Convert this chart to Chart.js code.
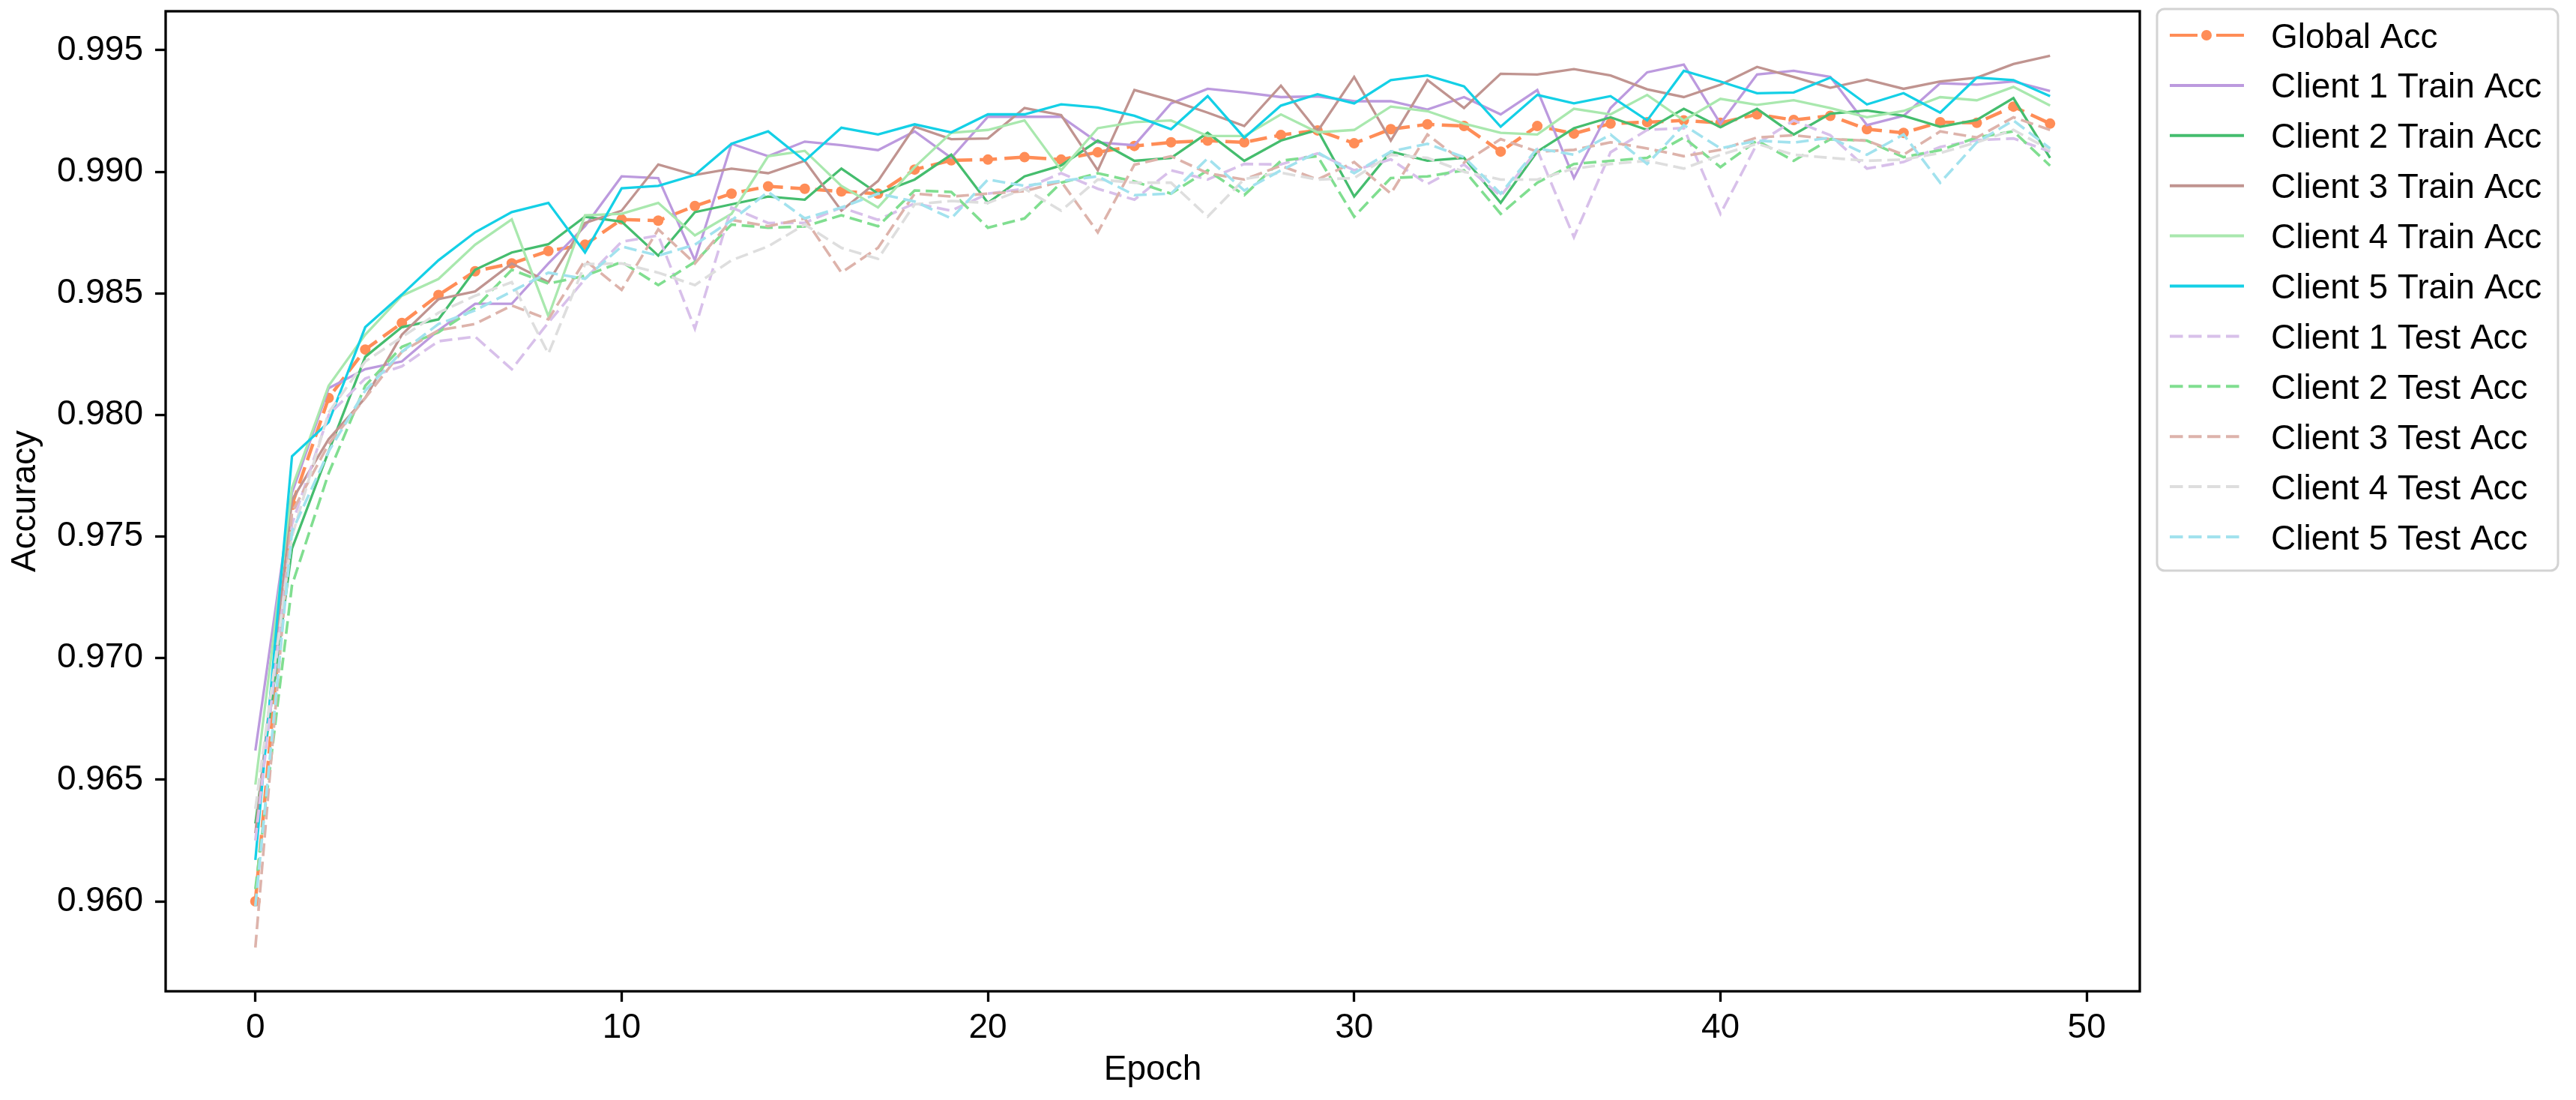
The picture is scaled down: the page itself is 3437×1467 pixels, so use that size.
<!DOCTYPE html>
<html>
<head>
<meta charset="utf-8">
<script src="https://cdn.jsdelivr.net/npm/chart.js@4.4.1/dist/chart.umd.min.js"></script>
<style>
	html, body { margin: 0; padding: 0; background: #ffffff; }
	#wrap { width: 3437px; height: 1467px; position: relative; }
</style>
</head>
<body>
<div id="wrap"><canvas id="mycanvas"></canvas></div>
<script>
// epochs and tick values
var epochs = [];
for (var e = 0; e < 50; e++) epochs.push(e);
var xTicks = [0, 10, 20, 30, 40, 50];
var yTicks = [0.960, 0.965, 0.970, 0.975, 0.980, 0.985, 0.990, 0.995];

var seriesNames = ["Global Acc",
	"Client 1 Train Acc", "Client 2 Train Acc", "Client 3 Train Acc", "Client 4 Train Acc", "Client 5 Train Acc",
	"Client 1 Test Acc", "Client 2 Test Acc", "Client 3 Test Acc", "Client 4 Test Acc", "Client 5 Test Acc"];

var globalAcc = [0.9600, 0.9763, 0.9807, 0.98269, 0.98378, 0.98493, 0.98591, 0.98623, 0.98674, 0.98700,
	0.98804, 0.98799, 0.98859, 0.98910, 0.98940, 0.98930, 0.98919, 0.98910, 0.99009, 0.99047,
	0.99050, 0.99060, 0.99050, 0.99080, 0.99106, 0.99121, 0.99128, 0.99121, 0.99151, 0.99170,
	0.99117, 0.99175, 0.99195, 0.99188, 0.99083, 0.99188, 0.99157, 0.99198, 0.99204, 0.99211,
	0.99201, 0.99236, 0.99213, 0.99230, 0.99175, 0.99160, 0.99204, 0.99201, 0.99268, 0.99198];

var c1Train = [0.9662, 0.9768, 0.9811, 0.98188, 0.98220, 0.98348, 0.98457, 0.98457, 0.98623, 0.98776,
	0.98981, 0.98974, 0.98636, 0.99115, 0.99064, 0.99124, 0.99109, 0.99089, 0.99166, 0.99057,
	0.99226, 0.99226, 0.99226, 0.99121, 0.99109, 0.99281, 0.99341, 0.99326, 0.99307, 0.99310,
	0.99290, 0.99290, 0.99256, 0.99307, 0.99236, 0.99336, 0.98974, 0.99262, 0.99409, 0.99441,
	0.99198, 0.99400, 0.99415, 0.99390, 0.99192, 0.99230, 0.99364, 0.99358, 0.99371, 0.99332];

var c2Train = [0.9632, 0.9745, 0.9785, 0.98239, 0.98361, 0.98393, 0.98597, 0.98668, 0.98702, 0.98815,
	0.98795, 0.98655, 0.98834, 0.98866, 0.98898, 0.98885, 0.99013, 0.98910, 0.98968, 0.99070,
	0.98872, 0.98981, 0.99026, 0.99128, 0.99045, 0.99057, 0.99160, 0.99045, 0.99128, 0.99172,
	0.98898, 0.99083, 0.99045, 0.99057, 0.98872, 0.99083, 0.99179, 0.99224, 0.99172, 0.99259,
	0.99183, 0.99259, 0.99153, 0.99239, 0.99252, 0.99230, 0.99185, 0.99213, 0.99303, 0.99057];

var c3Train = [0.9628, 0.9765, 0.9790, 0.9807, 0.9833, 0.98476, 0.98508, 0.98623, 0.98546, 0.98789,
	0.98840, 0.99030, 0.98987, 0.99013, 0.98994, 0.99045, 0.98840, 0.98962, 0.99185, 0.99134,
	0.99137, 0.99262, 0.99233, 0.99006, 0.99336, 0.99294, 0.99243, 0.99188, 0.99354, 0.99166,
	0.99390, 0.99128, 0.99377, 0.99262, 0.99403, 0.99400, 0.99422, 0.99396, 0.99339, 0.99307,
	0.99358, 0.99431, 0.99390, 0.99345, 0.99379, 0.99341, 0.99371, 0.99387, 0.99443, 0.99477];

var c4Train = [0.9648, 0.9770, 0.9812, 0.9833, 0.9849, 0.98559, 0.98700, 0.98804, 0.98406, 0.98821,
	0.98827, 0.98872, 0.98738, 0.98827, 0.99064, 0.99086, 0.98942, 0.98853, 0.99019, 0.99160,
	0.99172, 0.99211, 0.99006, 0.99179, 0.99204, 0.99211, 0.99147, 0.99147, 0.99236, 0.99162,
	0.99172, 0.99268, 0.99249, 0.99198, 0.99160, 0.99153, 0.99259, 0.99236, 0.99316, 0.99211,
	0.99300, 0.99275, 0.99294, 0.99262, 0.99224, 0.99250, 0.99307, 0.99294, 0.99349, 0.99272];

var c5Train = [0.9617, 0.9783, 0.9797, 0.98361, 0.98495, 0.98636, 0.98751, 0.98834, 0.98872, 0.98668,
	0.98932, 0.98942, 0.98987, 0.99115, 0.99166, 0.99045, 0.99181, 0.99153, 0.99195, 0.99162,
	0.99236, 0.99236, 0.99277, 0.99264, 0.99230, 0.99175, 0.99311, 0.99140, 0.99272, 0.99319,
	0.99281, 0.99377, 0.99396, 0.99351, 0.99185, 0.99316, 0.99281, 0.99311, 0.99211, 0.99415,
	0.99371, 0.99323, 0.99326, 0.99387, 0.99277, 0.99323, 0.99243, 0.99387, 0.99377, 0.99311];

var c1Test = [0.9625, 0.9755, 0.9800, 0.9815, 0.9820, 0.98303, 0.98322, 0.98188, 0.98380, 0.98559,
	0.98712, 0.98738, 0.98355, 0.98853, 0.98789, 0.98790, 0.98853, 0.98802, 0.98870, 0.98840,
	0.98910, 0.98930, 0.98994, 0.98930, 0.98885, 0.99006, 0.98968, 0.99032, 0.99030, 0.99075,
	0.99006, 0.99051, 0.98949, 0.99030, 0.98900, 0.99090, 0.98731, 0.99080, 0.99172, 0.99180,
	0.98827, 0.99115, 0.99211, 0.99150, 0.99013, 0.99040, 0.99102, 0.99130, 0.99137, 0.99083];

var c2Test = [0.9605, 0.9730, 0.9776, 0.9812, 0.9828, 0.98340, 0.98440, 0.98597, 0.98540, 0.98572,
	0.98629, 0.98534, 0.98629, 0.98783, 0.98770, 0.98775, 0.98821, 0.98776, 0.98923, 0.98917,
	0.98770, 0.98808, 0.98955, 0.98994, 0.98960, 0.98910, 0.99006, 0.98904, 0.99045, 0.99064,
	0.98815, 0.98974, 0.98981, 0.99006, 0.98827, 0.98955, 0.99032, 0.99045, 0.99057, 0.99141,
	0.99019, 0.99128, 0.99045, 0.99134, 0.99128, 0.99060, 0.99089, 0.99141, 0.99166, 0.99025];

var c3Test = [0.9581, 0.9760, 0.9788, 0.9807, 0.9826, 0.98348, 0.98374, 0.98450, 0.98393, 0.98636,
	0.98514, 0.98763, 0.98623, 0.98802, 0.98776, 0.98808, 0.98585, 0.98687, 0.98910, 0.98898,
	0.98910, 0.98920, 0.98960, 0.98751, 0.99029, 0.99064, 0.98994, 0.98968, 0.99025, 0.98968,
	0.99040, 0.98910, 0.99153, 0.99038, 0.99134, 0.99083, 0.99090, 0.99121, 0.99096, 0.99064,
	0.99090, 0.99141, 0.99150, 0.99134, 0.99128, 0.99070, 0.99166, 0.99141, 0.99224, 0.99172];

var c4Test = [0.9638, 0.9750, 0.9801, 0.9822, 0.9832, 0.98420, 0.98490, 0.98546, 0.98252, 0.98620,
	0.98623, 0.98585, 0.98534, 0.98636, 0.98693, 0.98783, 0.98687, 0.98642, 0.98866, 0.98880,
	0.98872, 0.98930, 0.98840, 0.98968, 0.98955, 0.98955, 0.98815, 0.98970, 0.98996, 0.98968,
	0.98974, 0.99070, 0.99057, 0.99000, 0.98968, 0.98968, 0.99013, 0.99032, 0.99045, 0.99013,
	0.99070, 0.99115, 0.99070, 0.99057, 0.99045, 0.99050, 0.99077, 0.99121, 0.99172, 0.99090];

var c5Test = [0.9598, 0.9752, 0.9785, 0.9810, 0.9826, 0.98374, 0.98430, 0.98508, 0.98585, 0.98560,
	0.98693, 0.98655, 0.98700, 0.98800, 0.98917, 0.98808, 0.98853, 0.98910, 0.98878, 0.98808,
	0.98968, 0.98942, 0.98962, 0.98981, 0.98904, 0.98910, 0.99055, 0.98923, 0.99006, 0.99080,
	0.98994, 0.99083, 0.99115, 0.99060, 0.98910, 0.99096, 0.99070, 0.99153, 0.99032, 0.99192,
	0.99096, 0.99128, 0.99120, 0.99140, 0.99070, 0.99153, 0.98955, 0.99121, 0.99211, 0.99096];

var allSeries = [globalAcc, c1Train, c2Train, c3Train, c4Train, c5Train, c1Test, c2Test, c3Test, c4Test, c5Test];
var colors = ["#ff8d57",
	"#bc9ade", "#45bd6e", "#c09490", "#a9e8ae", "#14d0e6",
	"#d8c0ea", "#80de90", "#ddb3ab", "#dedede", "#a2e2ee"];

var FONT = "'Liberation Sans', Arial, sans-serif";
var PLOT = { left: 221, top: 15, right: 2855, bottom: 1322 };

function points(arr) {
	var out = [];
	for (var i = 0; i < arr.length; i++) out.push({ x: epochs[i], y: arr[i] });
	return out;
}

var datasets = [];
for (var i = 0; i < allSeries.length; i++) {
	var ds = {
		label: seriesNames[i],
		data: points(allSeries[i]),
		borderColor: colors[i],
		backgroundColor: colors[i],
		fill: false,
		tension: 0,
		pointRadius: 0,
		pointHoverRadius: 0,
		borderWidth: 3.3,
		order: allSeries.length - i
	};
	if (i == 0) {
		ds.borderWidth = 4.5;
		ds.borderDash = [23, 10];
		ds.pointRadius = 7;
		ds.pointBorderWidth = 0;
		ds.pointBackgroundColor = colors[i];
	} else if (i > 5) {
		ds.borderWidth = 3.6;
		ds.borderDash = [17, 7.5];
	}
	datasets.push(ds);
}

// frame around the axes + legend box at the right
var framePlugin = {
	id: "frame",
	afterDatasetsDraw: function(chart) {
		var ctx = chart.ctx, a = chart.chartArea;
		ctx.save();
		ctx.strokeStyle = "#000000";
		ctx.lineWidth = 3.3;
		ctx.strokeRect(a.left, a.top, a.right - a.left, a.bottom - a.top);
		ctx.restore();
	},
	afterDraw: function(chart) {
		var ctx = chart.ctx;
		var bx = 2878, by = 12, bw = 535, bh = 749, r = 10;
		ctx.save();
		ctx.beginPath();
		ctx.moveTo(bx + r, by);
		ctx.arcTo(bx + bw, by, bx + bw, by + bh, r);
		ctx.arcTo(bx + bw, by + bh, bx, by + bh, r);
		ctx.arcTo(bx, by + bh, bx, by, r);
		ctx.arcTo(bx, by, bx + bw, by, r);
		ctx.closePath();
		ctx.fillStyle = "rgba(255,255,255,0.8)";
		ctx.fill();
		ctx.strokeStyle = "#d3d3d3";
		ctx.lineWidth = 3;
		ctx.stroke();

		ctx.font = "46px " + FONT;
		ctx.textBaseline = "alphabetic";
		ctx.textAlign = "left";
		for (var i = 0; i < chart.data.datasets.length; i++) {
			var d = chart.data.datasets[i];
			var y = 47 + i * 66.9;
			ctx.strokeStyle = d.borderColor;
			ctx.lineWidth = 4;
			ctx.lineCap = "butt";
			if (i == 0) ctx.setLineDash([37, 25]);
			else if (d.borderDash) ctx.setLineDash([17.5, 7.5]);
			else ctx.setLineDash([]);
			ctx.beginPath();
			ctx.moveTo(2895, y);
			ctx.lineTo(2994, y);
			ctx.stroke();
			ctx.setLineDash([]);
			if (i == 0) {
				ctx.fillStyle = d.borderColor;
				ctx.beginPath();
				ctx.arc(2944, y, 7, 0, Math.PI * 2);
				ctx.fill();
			}
			ctx.fillStyle = "#000000";
			ctx.fillText(d.label, 3030, y + 16.5);
		}
		ctx.restore();
	}
};

var ctx = document.getElementById("mycanvas");
var chart = new Chart(ctx, {
	type: "line",
	data: { datasets: datasets },
	plugins: [framePlugin],
	options: {
		responsive: true,
		maintainAspectRatio: false,
		animation: false,
		events: [],
		layout: { padding: { left: 0, top: PLOT.top, right: 3437 - PLOT.right, bottom: 0 } },
		plugins: {
			legend: { display: false },
			tooltip: { enabled: false }
		},
		scales: {
			x: {
				type: "linear",
				min: -2.45,
				max: 51.45,
				afterFit: function(scale) {
					scale.height = 1467 - PLOT.bottom;
					scale.paddingLeft = 0;
					scale.paddingRight = 0;
				},
				afterBuildTicks: function(scale) {
					scale.ticks = xTicks.map(function(v) { return { value: v }; });
				},
				border: { display: false },
				grid: { drawOnChartArea: false, drawTicks: true, tickLength: 14, tickWidth: 3.3, tickColor: "#000000" },
				ticks: { color: "#000000", font: { size: 46, family: FONT }, padding: 8, maxRotation: 0 },
				title: { display: true, text: "Epoch", color: "#000000", font: { size: 46, family: FONT }, padding: { bottom: 12 } }
			},
			y: {
				type: "linear",
				min: 0.9563,
				max: 0.9966,
				afterFit: function(scale) {
					scale.width = PLOT.left;
					scale.paddingTop = 0;
					scale.paddingBottom = 0;
				},
				afterBuildTicks: function(scale) {
					scale.ticks = yTicks.map(function(v) { return { value: v }; });
				},
				border: { display: false },
				grid: { drawOnChartArea: false, drawTicks: true, tickLength: 14, tickWidth: 3.3, tickColor: "#000000" },
				ticks: {
					color: "#000000",
					font: { size: 46, family: FONT },
					padding: 16,
					callback: function(value) { return value.toFixed(3); }
				},
				title: { display: true, text: "Accuracy", color: "#000000", font: { size: 46, family: FONT }, padding: { top: 7 } }
			}
		}
	}
});
</script>
</body>
</html>
